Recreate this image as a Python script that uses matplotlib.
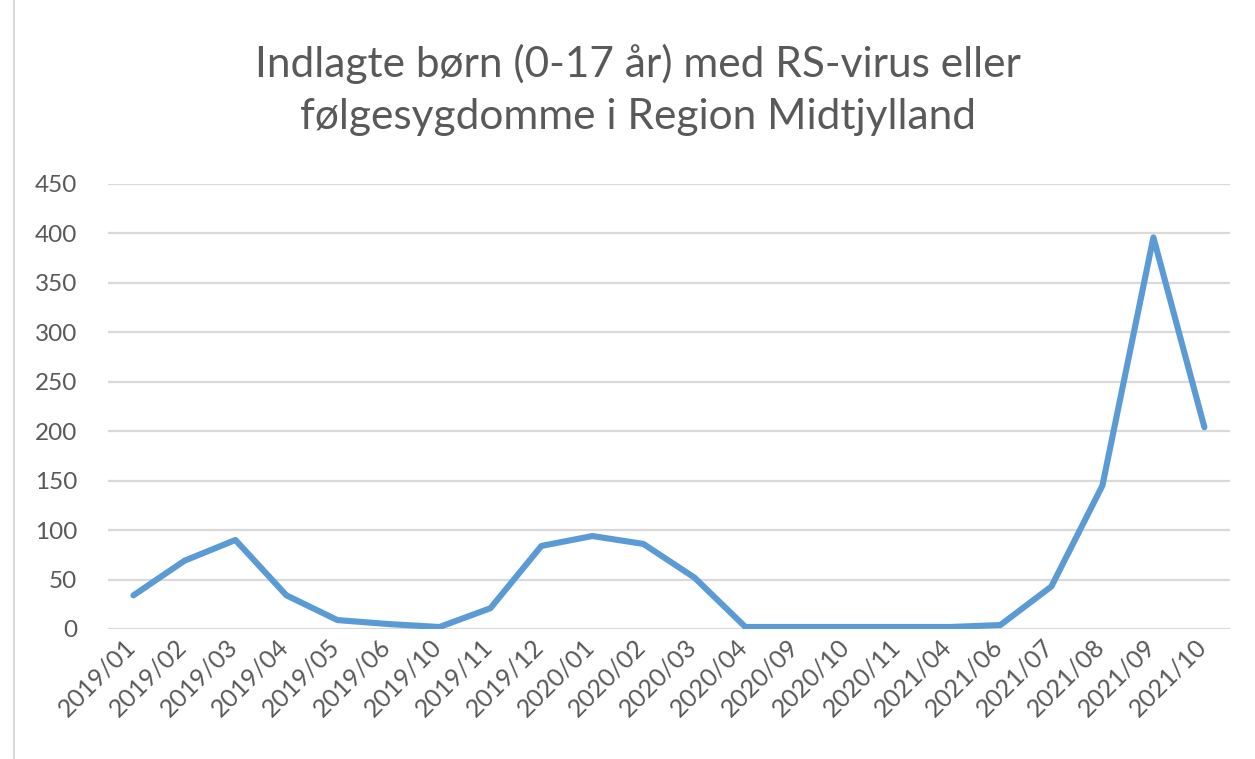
import numpy as np
import matplotlib.pyplot as plt
import matplotlib.transforms as mtransforms
from matplotlib.lines import Line2D

# data
months = ['2019/01', '2019/02', '2019/03', '2019/04', '2019/05', '2019/06',
          '2019/10', '2019/11', '2019/12', '2020/01', '2020/02', '2020/03',
          '2020/04', '2020/09', '2020/10', '2020/11', '2021/04', '2021/06',
          '2021/07', '2021/08', '2021/09', '2021/10']
admitted = [34, 69, 90, 34, 9, 5, 2, 21, 84, 94, 86, 52,
            2, 2, 2, 2, 2, 4, 43, 145, 396, 204]
yticks = [0, 50, 100, 150, 200, 250, 300, 350, 400, 450]

title = 'Indlagte børn (0-17 år) med RS-virus eller\nfølgesygdomme i Region Midtjylland'

txt = '#595959'
plt.rcParams['font.family'] = ['Lato', 'DejaVu Sans']

fig = plt.figure(figsize=(12.55, 7.59), dpi=100)
ax = fig.add_axes([0.086, 0.1713, 0.894, 0.5863])

x = np.arange(len(months))
ax.plot(x, admitted, color='#5B9BD5', lw=4.4, solid_joinstyle='round',
        solid_capstyle='round', zorder=3)

ax.set_xlim(-0.5, len(months) - 0.5)
ax.set_ylim(0, 450)
ax.set_yticks(yticks)
ax.yaxis.grid(True, color='#D9D9D9', lw=1.6)
ax.set_axisbelow(True)
for s in ax.spines.values():
    s.set_visible(False)
ax.tick_params(axis='both', length=0, colors=txt, labelsize=17.5)
ax.tick_params(axis='y', pad=22)
ax.set_xticks(x)
ax.set_xticklabels(months, rotation=45, ha='right', rotation_mode='anchor',
                   fontsize=18, color=txt)
ax.tick_params(axis='x', pad=4)
# nudge rotated labels left so their top end sits under the point
shift = mtransforms.ScaledTranslation(-10 / 100, 0, fig.dpi_scale_trans)
for lab in ax.get_xticklabels():
    lab.set_transform(lab.get_transform() + shift)

fig.text(0.508, 0.881, title, ha='center', va='center', fontsize=30.5,
         color=txt, linespacing=1.45)

# left edge of the chart frame
fig.add_artist(Line2D([0.0115, 0.0115], [0, 1], color='#D9D9D9', lw=1.5))

fig.savefig('out.png', dpi=100)
